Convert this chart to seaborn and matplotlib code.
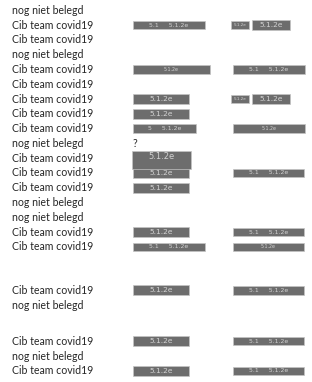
import pandas as pd
import matplotlib.pyplot as plt
import seaborn as sns

# document rows: label text and line number on the page
row_labels = [
    "nog niet belegd", "Cib team covid19", "Cib team covid19", "nog niet belegd",
    "Cib team covid19", "Cib team covid19", "Cib team covid19", "Cib team covid19",
    "Cib team covid19", "nog niet belegd", "Cib team covid19", "Cib team covid19",
    "Cib team covid19", "nog niet belegd", "nog niet belegd", "Cib team covid19",
    "Cib team covid19", "Cib team covid19", "nog niet belegd",
    "Cib team covid19", "nog niet belegd", "Cib team covid19",
]
row_line = [0, 1, 2, 3, 4, 5, 6, 7, 8, 9, 10, 11, 12, 13, 14, 15, 16,
            18.95, 19.95, 22.4, 23.4, 24.4]

# redaction boxes: row index, start, end, text, kind
box_row   = [1, 1, 1, 4, 4, 6, 6, 6, 7, 8, 8, 10, 11, 11, 12, 15, 15, 16, 16, 17, 17, 19, 19, 21, 21]
box_start = [133, 231, 252, 133, 233, 133, 231, 252, 133, 133, 233, 132, 133, 233, 133, 133, 233, 133, 233, 133, 233, 133, 233, 133, 233]
box_end   = [205, 249, 290, 210, 305, 189, 249, 290, 189, 196, 305, 191, 189, 304, 189, 189, 304, 205, 304, 189, 304, 189, 304, 189, 304]
box_text  = ["5.1     5.1.2e", "5.1.2e", "5.1.2e", "5.1.2e", "5.1     5.1.2e",
             "5.1.2e", "5.1.2e", "5.1.2e", "5.1.2e", "5     5.1.2e", "5.1.2e",
             "5.1.2e", "5.1.2e", "5.1     5.1.2e", "5.1.2e", "5.1.2e", "5.1     5.1.2e",
             "5.1     5.1.2e", "5.1.2e", "5.1.2e", "5.1     5.1.2e", "5.1.2e",
             "5.1     5.1.2e", "5.1.2e", "5.1     5.1.2e"]
box_kind  = ["long", "tiny", "short", "faint", "long", "short", "tiny", "short", "short",
             "long", "faint", "tall", "short", "long", "short", "short", "long", "long",
             "faint", "short", "long", "short", "long", "short", "long"]

question_row = 9

kind_style = {
    "short": dict(height=0.68, fs=5.4, bar_dy=0.0, text_dy=0.0),
    "long":  dict(height=0.56, fs=4.4, bar_dy=0.0, text_dy=0.0),
    "faint": dict(height=0.56, fs=3.4, bar_dy=0.0, text_dy=0.0),
    "tiny":  dict(height=0.56, fs=3.0, bar_dy=0.0, text_dy=0.0),
    "tall":  dict(height=1.22, fs=6.0, bar_dy=0.14, text_dy=-0.1),
}

sns.set_theme(style="white")
plt.rcParams['font.family'] = ['Lato', 'DejaVu Sans']

rows = pd.DataFrame({"label": row_labels, "line": row_line})
boxes = pd.DataFrame({"row": box_row, "start": box_start, "end": box_end,
                      "text": box_text, "kind": box_kind})
boxes["line"] = rows["line"].values[boxes["row"]]
boxes["width"] = boxes["end"] - boxes["start"]

fig = plt.figure(figsize=(3.12, 3.82), dpi=100)
ax = fig.add_axes([0, 0, 1, 1])
ax.set_xlim(0, 312)
ax.set_ylim(25.15, -0.7)
ax.axis("off")

for _, r in rows.iterrows():
    ax.text(12, r["line"], r["label"], ha="left", va="center", fontsize=7.6, color="#262626")

ax.text(133, rows["line"][question_row], "?", ha="left", va="center", fontsize=7.6, color="#262626")

for kind, grp in boxes.groupby("kind"):
    st = kind_style[kind]
    ax.barh(grp["line"] + st["bar_dy"], grp["width"], left=grp["start"],
            height=st["height"], color="#6d6d6d", edgecolor="#c4c4c4", linewidth=0.5)
    for _, b in grp.iterrows():
        ax.text(b["start"] + b["width"] / 2, b["line"] + st["text_dy"], b["text"],
                ha="center", va="center", fontsize=st["fs"], color="#d2d2d2",
                family=["DejaVu Sans"])

fig.savefig("out.png", dpi=100, facecolor="white")
